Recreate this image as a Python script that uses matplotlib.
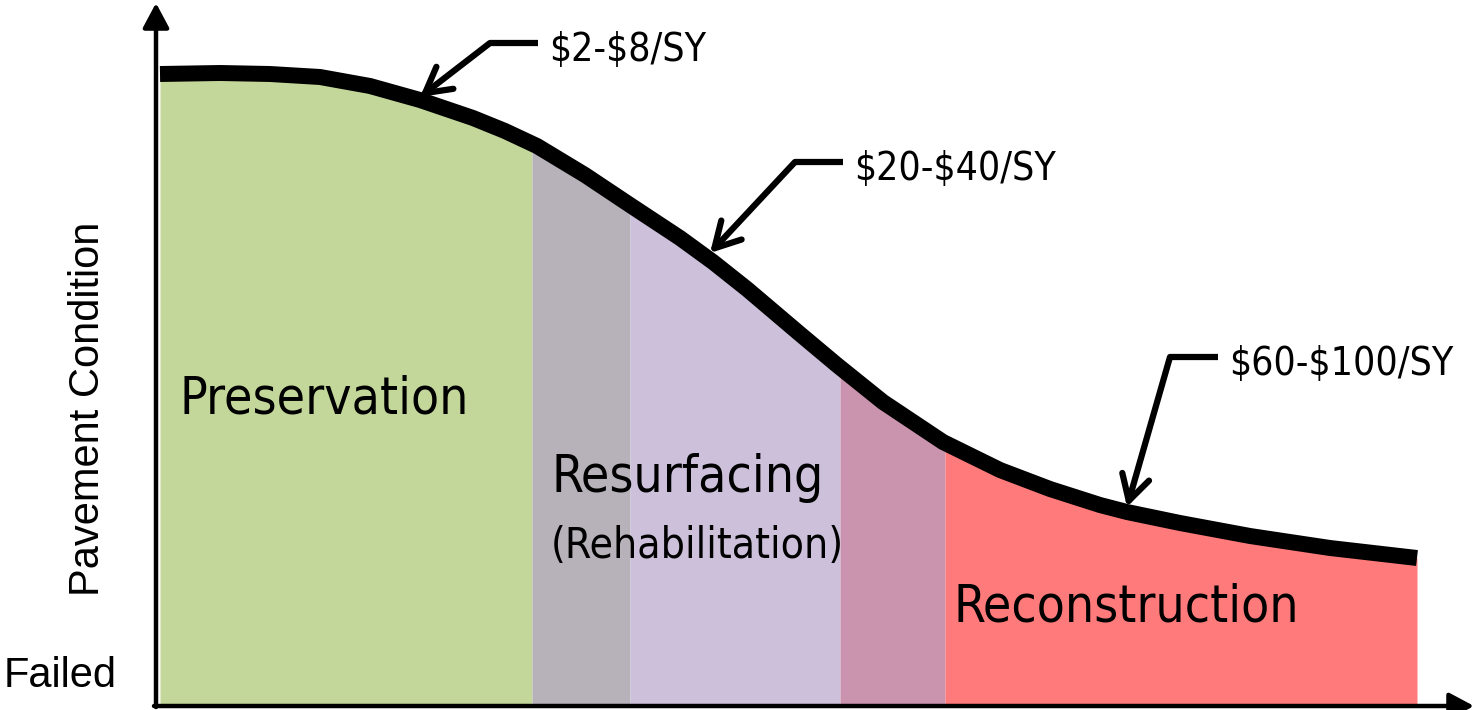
import numpy as np
from matplotlib import pyplot as plt

# deterioration curve (pixel-like units, y grows downward)
cond_x = [160, 220, 270, 320, 370, 420, 473, 505, 537, 585, 630, 680, 713, 747,
          800, 837, 883, 943, 1000, 1050, 1100, 1127, 1180, 1250, 1330, 1417]
cond_y = [74, 73, 74, 77, 86, 100, 118, 131, 146, 175, 205, 238, 262, 289,
          334, 365, 402, 442, 470, 489, 505, 512, 523, 536, 548, 558]

zone_edges = [160, 532, 630, 840, 945, 1417]
zone_colors = ['#C4D79B', '#B7B1BA', '#CCC0DA', '#CA93AE', '#FF7A7A']
base_y = 705

cost_labels = ['$2-$8/SY', '$20-$40/SY', '$60-$100/SY']
cost_tips = [(420, 97), (710, 253), (1127, 507)]
cost_corners = [(490, 43), (795, 162), (1170, 357)]

narrow = dict(family='DejaVu Sans', stretch='condensed', parse_math=False)
regular = dict(family=['Liberation Sans', 'DejaVu Sans'])

fig = plt.figure(figsize=(14.75, 7.1), dpi=100)
ax = fig.add_axes([0, 0, 1, 1])
ax.set_xlim(0, 1475)
ax.set_ylim(710, 0)
ax.axis('off')

# coloured zones under the curve
for i in range(len(zone_colors)):
    xs = np.linspace(zone_edges[i], zone_edges[i + 1], 60)
    ys = np.interp(xs, cond_x, cond_y)
    ax.fill_between(xs, ys, base_y, color=zone_colors[i], lw=0, zorder=1)

ax.plot(cond_x, cond_y, color='black', lw=11.5, solid_capstyle='butt',
        solid_joinstyle='round', zorder=3)

# axes with arrow heads
ax.annotate('', xy=(156, 3), xytext=(156, 707),
            arrowprops=dict(arrowstyle='-|>,head_length=0.75,head_width=0.4',
                            lw=3.2, color='black', mutation_scale=20,
                            shrinkA=0, shrinkB=0), zorder=4)
ax.annotate('', xy=(1474, 706), xytext=(154, 706),
            arrowprops=dict(arrowstyle='-|>,head_length=0.75,head_width=0.4',
                            lw=3.2, color='black', mutation_scale=20,
                            shrinkA=0, shrinkB=0), zorder=4)

# cost call-outs
for lab, tip, corner in zip(cost_labels, cost_tips, cost_corners):
    ax.plot([corner[0], corner[0] + 48], [corner[1], corner[1]], color='black',
            lw=4.5, solid_capstyle='butt', zorder=4)
    ax.annotate('', xy=tip, xytext=corner,
                arrowprops=dict(arrowstyle='->,head_length=0.9,head_width=0.5',
                                lw=4.5, color='black', mutation_scale=20,
                                shrinkA=0, shrinkB=0), zorder=4)
    ax.text(corner[0] + 59, corner[1] + 18, lab, fontsize=28,
            ha='left', va='baseline', **narrow)

# zone names
ax.text(180, 414, 'Preservation', fontsize=37, ha='left', va='baseline', **narrow)
ax.text(552, 492, 'Resurfacing', fontsize=37, ha='left', va='baseline', **narrow)
ax.text(551, 558, '(Rehabilitation)', fontsize=30.5, ha='left', va='baseline', **narrow)
ax.text(954, 621, 'Reconstruction', fontsize=37, ha='left', va='baseline', **narrow)

# axis texts
ax.text(88, 409, 'Pavement Condition', fontsize=30, rotation=90,
        ha='center', va='center', **regular)
ax.text(4, 687, 'Failed', fontsize=30, ha='left', va='baseline', **regular)

fig.savefig('out.png', dpi=100)
